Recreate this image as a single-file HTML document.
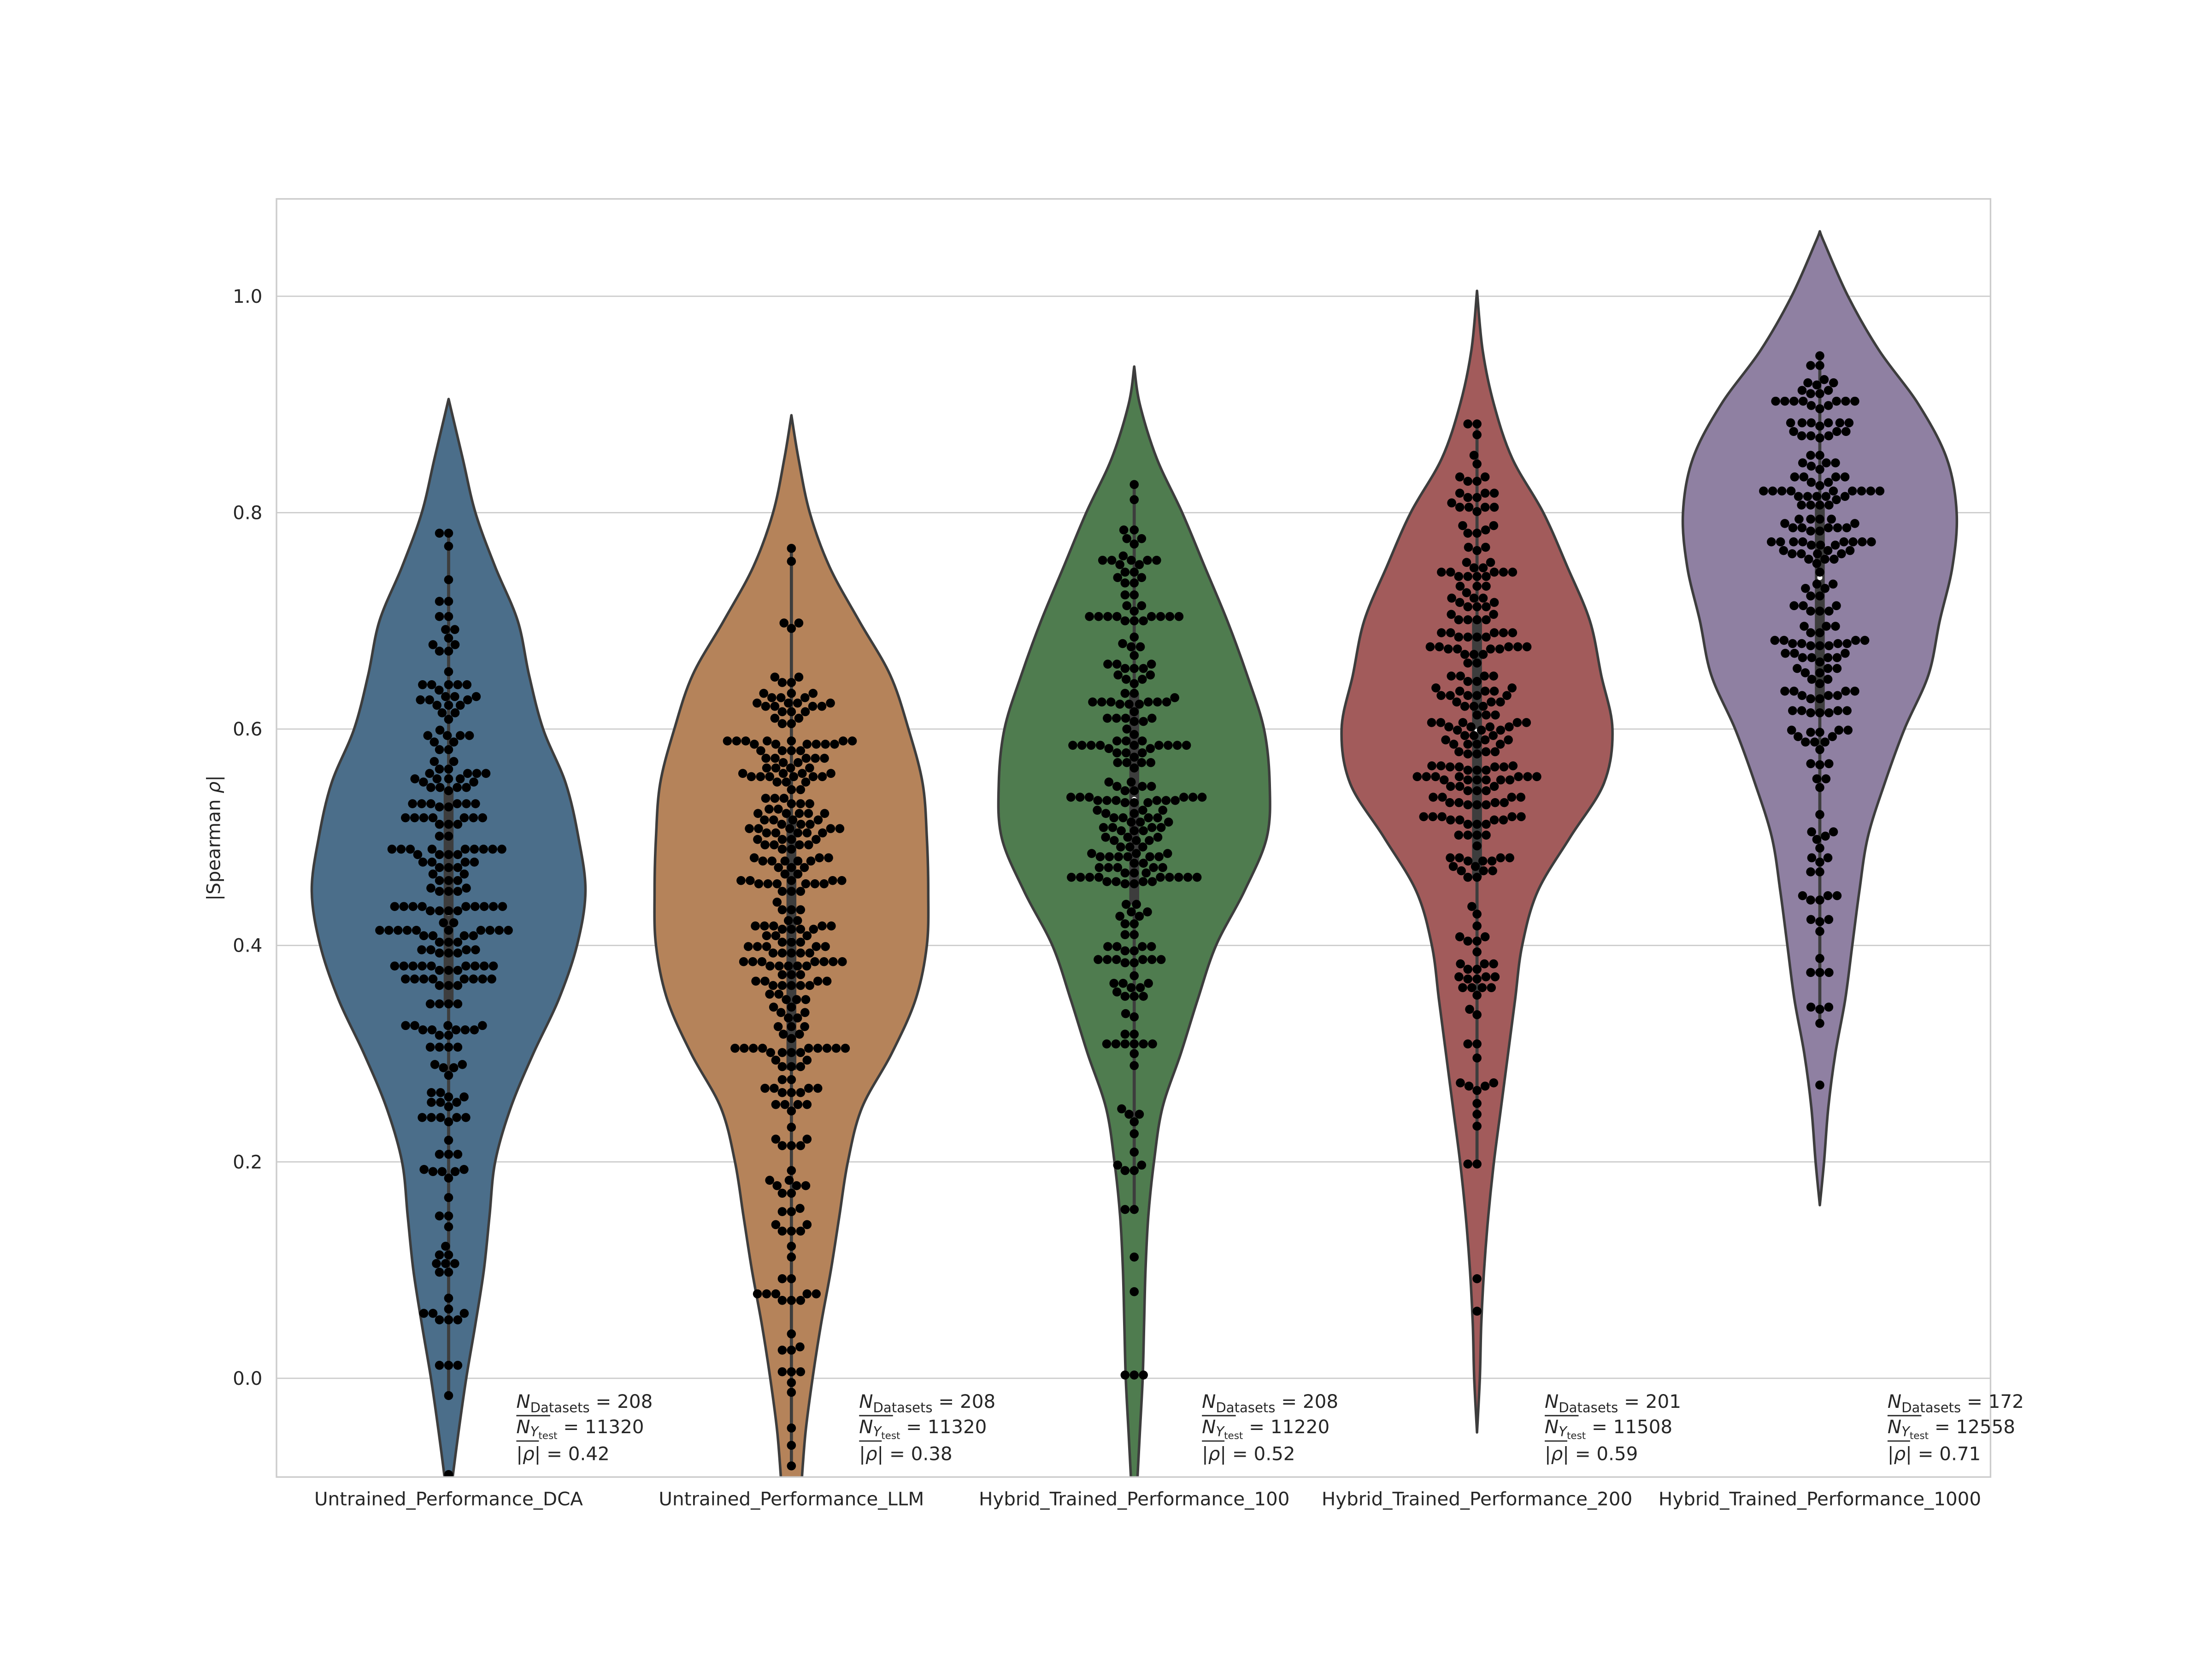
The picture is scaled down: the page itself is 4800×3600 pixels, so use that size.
<!DOCTYPE html>
<html><head><meta charset="utf-8"><style>
html,body{margin:0;padding:0;background:#fff;}
svg{display:block;}
text{font-family:"DejaVu Sans","Liberation Sans",sans-serif;fill:#262626;}
</style></head>
<body>
<svg id="chart" width="4800" height="3600" viewBox="0 0 1568 1176" xmlns="http://www.w3.org/2000/svg">
<defs><clipPath id="axclip"><rect x="196" y="141" width="1215" height="906"/></clipPath></defs>
<rect x="0" y="0" width="1568" height="1176" fill="#fff"/>
<g id="grid"></g>
<g id="violins" clip-path="url(#axclip)"></g>
<g id="spines"></g>
<g id="yticks"></g>
<g id="xticks"></g>
<g id="annots"></g>
<text transform="translate(156,594) rotate(-90)" text-anchor="middle" font-size="13.2">|Spearman <tspan font-style="italic">ρ</tspan>|</text>
</svg>
<script>
const categories = ["Untrained_Performance_DCA","Untrained_Performance_LLM","Hybrid_Trained_Performance_100","Hybrid_Trained_Performance_200","Hybrid_Trained_Performance_1000"];
const colors = ["#4b6e8a","#b5835a","#4f7c4f","#a25b5b","#8f80a2"];
const yTicks = [0.0,0.2,0.4,0.6,0.8,1.0];
const yTickLabels = ["0.0","0.2","0.4","0.6","0.8","1.0"];
const nDatasets = [208,208,208,201,172];
const nYtest = [11320,11320,11220,11508,12558];
const meanRho = ["0.42","0.38","0.52","0.59","0.71"];

// violin density profiles: value levels and half-widths (px)
const dcaProfV = [0.905,0.85,0.8,0.75,0.7,0.65,0.6,0.55,0.5,0.45,0.4,0.35,0.3,0.25,0.2,0.15,0.1,0.05,0,-0.05,-0.1];
const dcaProfW = [0,10,19,33,49,57,67,83,92,97,91,78,60,44,33,29,25,19,12.5,7,2];
const llmProfV = [0.89,0.85,0.8,0.75,0.7,0.65,0.6,0.55,0.5,0.45,0.4,0.35,0.3,0.25,0.2,0.15,0.1,0.05,0,-0.05,-0.1];
const llmProfW = [0,5,13,27,48,70,83,93,96,97,96,88,71,50,40,34,28,21,15,10,7];
const h100ProfV = [0.935,0.9,0.85,0.8,0.75,0.7,0.65,0.6,0.55,0.5,0.45,0.4,0.35,0.3,0.25,0.2,0.15,0.1,0.05,0,-0.05,-0.1];
const h100ProfW = [0,4,16,34,50,66,80,92,96,94,78,58,45,33,20,14,10,8,7,6,4,2];
const h200ProfV = [1.005,0.95,0.9,0.85,0.8,0.75,0.7,0.65,0.6,0.55,0.5,0.45,0.4,0.35,0.3,0.25,0.2,0.15,0.1,0.05,0,-0.05];
const h200ProfW = [0,4,12,25,47,64,80,88,96,90,66,43,32,27,22,17,12,8,5,3,2,0];
const h1000ProfV = [1.06,1.05,1.0,0.95,0.9,0.85,0.8,0.75,0.7,0.65,0.6,0.55,0.5,0.45,0.4,0.35,0.3,0.25,0.2,0.16];
const h1000ProfW = [0,3,20,42,70,90,97,94,85,77,60,46,34,28,23,18,11,6,3,0];

// swarm data: value levels and number of points at each level
const dcaLevels = [0.781,0.769,0.738,0.718,0.704,0.692,0.684,0.678,0.672,0.653,0.641,0.636,0.630,0.627,0.622,0.615,0.609,0.599,0.594,0.588,0.581,0.570,0.563,0.559,0.554,0.551,0.546,0.543,0.531,0.528,0.518,0.512,0.501,0.489,0.484,0.477,0.472,0.466,0.460,0.453,0.450,0.436,0.432,0.421,0.414,0.409,0.403,0.396,0.393,0.381,0.377,0.369,0.363,0.346,0.326,0.322,0.317,0.306,0.290,0.287,0.280,0.264,0.260,0.255,0.251,0.241,0.237,0.220,0.207,0.193,0.191,0.185,0.167,0.150,0.140,0.122,0.114,0.106,0.098,0.074,0.064,0.060,0.054,0.012,-0.016,-0.089];
const dcaCounts = [2,1,1,2,2,2,1,2,2,1,5,1,3,3,3,2,1,1,4,2,2,2,2,4,4,2,4,1,6,2,7,3,2,9,4,4,3,2,3,2,3,9,4,2,10,4,3,4,3,9,3,8,3,4,4,5,2,4,2,2,1,2,2,3,1,5,1,1,3,2,3,1,1,2,1,1,2,3,2,1,1,3,3,3,1,1];
const llmLevels = [0.767,0.755,0.698,0.693,0.648,0.643,0.633,0.629,0.624,0.621,0.616,0.610,0.605,0.589,0.586,0.580,0.573,0.569,0.564,0.559,0.556,0.551,0.544,0.536,0.531,0.526,0.522,0.516,0.512,0.508,0.504,0.498,0.493,0.489,0.481,0.478,0.472,0.466,0.460,0.457,0.450,0.440,0.433,0.423,0.418,0.415,0.409,0.403,0.399,0.393,0.385,0.381,0.373,0.367,0.363,0.355,0.350,0.343,0.338,0.333,0.325,0.318,0.314,0.305,0.301,0.294,0.288,0.276,0.268,0.264,0.253,0.247,0.232,0.221,0.215,0.192,0.183,0.178,0.171,0.157,0.154,0.142,0.136,0.122,0.112,0.092,0.078,0.072,0.041,0.029,0.026,0.006,-0.004,-0.013,-0.046,-0.062,-0.081];
const llmCounts = [1,1,2,1,2,2,3,3,4,4,3,2,2,7,6,4,5,2,4,4,6,3,2,3,3,2,5,4,3,5,5,4,4,2,3,5,3,2,5,6,3,1,3,2,5,4,3,3,5,5,7,5,3,4,5,2,3,2,2,2,3,2,1,9,4,2,3,2,4,3,4,1,1,2,3,1,2,3,2,1,2,2,3,1,1,2,5,3,1,1,2,3,1,1,1,1,1];
const h100Levels = [0.826,0.812,0.784,0.776,0.771,0.760,0.756,0.752,0.745,0.740,0.735,0.724,0.714,0.709,0.704,0.700,0.685,0.679,0.676,0.668,0.660,0.656,0.650,0.646,0.642,0.633,0.629,0.625,0.623,0.616,0.610,0.607,0.600,0.595,0.589,0.585,0.582,0.578,0.574,0.569,0.564,0.551,0.547,0.543,0.537,0.534,0.532,0.525,0.522,0.518,0.514,0.509,0.506,0.500,0.497,0.491,0.485,0.482,0.476,0.472,0.467,0.463,0.459,0.457,0.438,0.431,0.427,0.420,0.410,0.399,0.395,0.387,0.384,0.372,0.365,0.361,0.357,0.353,0.337,0.334,0.318,0.309,0.300,0.289,0.249,0.244,0.237,0.226,0.209,0.197,0.192,0.156,0.112,0.080,0.003];
const h100Counts = [1,1,2,2,1,1,5,2,2,2,2,2,2,1,8,3,1,1,2,1,3,3,2,2,1,2,1,6,3,1,4,2,1,1,3,9,2,3,1,4,1,2,3,2,6,6,3,3,2,4,3,4,3,3,3,3,3,6,2,5,3,9,4,2,2,2,2,2,2,4,2,6,2,1,3,2,1,3,1,1,2,6,1,1,1,2,1,1,1,2,2,2,1,1,3];
const h200Levels = [0.882,0.872,0.853,0.845,0.833,0.829,0.818,0.814,0.809,0.805,0.801,0.788,0.784,0.781,0.768,0.765,0.754,0.749,0.745,0.741,0.732,0.726,0.721,0.717,0.713,0.706,0.701,0.689,0.685,0.676,0.674,0.669,0.661,0.649,0.644,0.638,0.635,0.631,0.625,0.621,0.613,0.606,0.602,0.599,0.594,0.590,0.586,0.579,0.577,0.566,0.565,0.562,0.556,0.553,0.547,0.543,0.537,0.532,0.530,0.519,0.516,0.512,0.502,0.492,0.481,0.478,0.473,0.469,0.463,0.436,0.429,0.418,0.408,0.404,0.394,0.383,0.378,0.371,0.369,0.361,0.354,0.341,0.336,0.309,0.296,0.273,0.270,0.266,0.254,0.244,0.233,0.198,0.092,0.062];
const h200Counts = [2,1,1,1,2,2,3,2,1,4,1,2,1,2,2,1,2,2,5,4,3,1,3,2,3,2,4,5,4,5,4,3,2,4,2,2,3,5,3,3,3,5,4,3,3,3,4,3,2,3,4,3,7,6,3,3,4,4,3,5,4,3,4,1,4,3,2,3,2,1,1,1,2,2,1,3,2,3,2,4,1,1,1,2,1,2,2,1,1,1,1,2,1,1];
const h1000Levels = [0.945,0.936,0.923,0.920,0.918,0.913,0.910,0.903,0.899,0.896,0.883,0.880,0.875,0.871,0.869,0.853,0.846,0.843,0.840,0.833,0.828,0.825,0.820,0.815,0.812,0.807,0.794,0.790,0.786,0.783,0.773,0.770,0.765,0.762,0.757,0.753,0.745,0.734,0.730,0.723,0.714,0.709,0.695,0.689,0.682,0.679,0.677,0.670,0.666,0.662,0.656,0.652,0.646,0.642,0.635,0.631,0.628,0.617,0.615,0.599,0.597,0.593,0.588,0.581,0.568,0.567,0.554,0.546,0.521,0.505,0.501,0.498,0.490,0.481,0.477,0.468,0.446,0.442,0.424,0.422,0.413,0.388,0.375,0.343,0.341,0.328,0.271];
const h1000Counts = [1,2,1,2,1,2,2,7,2,1,6,1,3,3,1,2,3,1,1,4,2,1,9,5,1,4,4,2,5,2,8,3,3,4,3,1,1,2,2,2,3,3,3,2,4,4,3,3,4,1,3,2,2,1,4,3,2,4,3,3,2,2,3,1,2,1,2,1,1,2,1,1,1,2,1,2,3,2,2,1,1,1,3,2,1,1,1];

// inner box stats: q1, q3, median, whisker low, whisker high
const boxQ1 = [0.345,0.285,0.438,0.463,0.614];
const boxQ3 = [0.544,0.520,0.633,0.700,0.807];
const boxMed = [0.430,0.405,0.535,0.598,0.740];
const whiskLo = [-0.016,-0.081,0.156,0.198,0.328];
const whiskHi = [0.781,0.767,0.826,0.882,0.945];

const profV = [dcaProfV,llmProfV,h100ProfV,h200ProfV,h1000ProfV];
const profW = [dcaProfW,llmProfW,h100ProfW,h200ProfW,h1000ProfW];
const levels = [dcaLevels,llmLevels,h100Levels,h200Levels,h1000Levels];
const counts = [dcaCounts,llmCounts,h100Counts,h200Counts,h1000Counts];

const NS = "http://www.w3.org/2000/svg";
const AX = {l:196, r:1411, t:141, b:1047};
function yS(v){ return 977 - v*767; }
function xS(i){ return 318 + i*243; }
function mk(tag, attrs, parent){
  const e = document.createElementNS(NS, tag);
  for (const k in attrs) e.setAttribute(k, attrs[k]);
  parent.appendChild(e);
  return e;
}

const grid = document.getElementById('grid');
yTicks.forEach((t,i)=>{
  const ln = mk('line',{x1:AX.l,x2:AX.r,y1:yS(t),y2:yS(t),stroke:'#cccccc','stroke-width':0.9},grid);
  
  
  const tx = mk('text',{x:186,y:yS(t)+4.6,'text-anchor':'end','font-size':13.2},document.getElementById('yticks'));
  tx.textContent = yTickLabels[i];
  
  
});

function smoothPath(pts){
  let d = 'M'+pts[0][0]+','+pts[0][1];
  for (let i=0;i<pts.length-1;i++){
    const p0=pts[Math.max(0,i-1)], p1=pts[i], p2=pts[i+1], p3=pts[Math.min(pts.length-1,i+2)];
    const c1=[p1[0]+(p2[0]-p0[0])/6, p1[1]+(p2[1]-p0[1])/6];
    const c2=[p2[0]-(p3[0]-p1[0])/6, p2[1]-(p3[1]-p1[1])/6];
    d += ' C'+c1[0].toFixed(2)+','+c1[1].toFixed(2)+' '+c2[0].toFixed(2)+','+c2[1].toFixed(2)+' '+p2[0].toFixed(2)+','+p2[1].toFixed(2);
  }
  return d;
}
const vg = document.getElementById('violins');
const R = 3.2, D = 6.5;
categories.forEach((c,i)=>{
  const cx = xS(i);
  const g = mk('g',{},vg);
  
  
  const V = profV[i], W = profW[i];
  const right = V.map((v,k)=>[cx+W[k], yS(v)]);
  const left = V.map((v,k)=>[cx-W[k], yS(v)]).reverse();
  let d = smoothPath(right) + ' L' + smoothPath(left).slice(1) + ' Z';
  const p = mk('path',{d:d,fill:colors[i],stroke:'#3d3d3d','stroke-width':1.8,'stroke-linejoin':'round'},g);
  
  
  const wl = mk('line',{x1:cx,x2:cx,y1:yS(whiskHi[i]),y2:yS(whiskLo[i]),stroke:'#3d3d3d','stroke-width':2.2},g);
  
  
  const bx = mk('rect',{x:cx-3.5,y:yS(boxQ3[i]),width:7,height:yS(boxQ1[i])-yS(boxQ3[i]),fill:'#3d3d3d'},g);
  
  
  const md = mk('circle',{cx:cx,cy:yS(boxMed[i]),r:1.8,fill:'#fff'},g);
  
  
  const vals = [];
  levels[i].forEach((lv,k)=>{ for(let n=0;n<counts[i][k];n++) vals.push(lv); });
  vals.sort((a,b)=>a-b);
  const placed = [];
  vals.forEach(v=>{
    const y = yS(v);
    const near = placed.filter(q=>Math.abs(q[1]-y)<D);
    const cands = [0];
    near.forEach(q=>{ const dx=Math.sqrt(D*D-(q[1]-y)*(q[1]-y)); cands.push(q[0]+dx, q[0]-dx); });
    cands.sort((a,b)=>Math.abs(a)-Math.abs(b) || a-b);
    let xo = 0;
    for (const cnd of cands){
      if (near.every(q=>Math.hypot(q[0]-cnd,q[1]-y) >= D-1e-6)){ xo=cnd; break; }
    }
    placed.push([xo,y]);
    const dot = mk('circle',{cx:(cx+xo).toFixed(2),cy:y.toFixed(2),r:R,fill:'#000'},g);
    
    
  });
});

const sp = document.getElementById('spines');
const frame = mk('rect',{x:AX.l,y:AX.t,width:AX.r-AX.l,height:AX.b-AX.t,fill:'none',stroke:'#cccccc','stroke-width':1.1},sp);



const xt = document.getElementById('xticks');
categories.forEach((c,i)=>{
  const t = mk('text',{x:xS(i),y:1067,'text-anchor':'middle','font-size':13.2},xt);
  t.textContent = c;
  
  
});

const an = document.getElementById('annots');
categories.forEach((c,i)=>{
  const x0 = xS(i) + 48;
  const g = mk('g',{'font-size':13.2},an);
  
  
  const t1 = mk('text',{x:x0,y:998},g);
  t1.innerHTML = '<tspan font-style="italic">N</tspan><tspan font-size="9.5" dy="3">Datasets</tspan><tspan dy="-3"> = '+nDatasets[i]+'</tspan>';
  
  
  const t2 = mk('text',{x:x0,y:1016},g);
  t2.innerHTML = '<tspan font-style="italic">N</tspan><tspan font-style="italic" font-size="9.5" dy="2">Y</tspan><tspan font-size="7" dy="2">test</tspan><tspan dy="-4"> = '+nYtest[i]+'</tspan>';
  
  
  const o2 = mk('line',{x1:x0,x2:x0+24,y1:1003.5,y2:1003.5,stroke:'#262626','stroke-width':0.9},g);
  
  
  const t3 = mk('text',{x:x0,y:1035},g);
  t3.innerHTML = '|<tspan font-style="italic">ρ</tspan>| = '+meanRho[i];
  
  
  const o3 = mk('line',{x1:x0,x2:x0+16,y1:1021.5,y2:1021.5,stroke:'#262626','stroke-width':0.9},g);
  
  
});
</script>
</body></html>
